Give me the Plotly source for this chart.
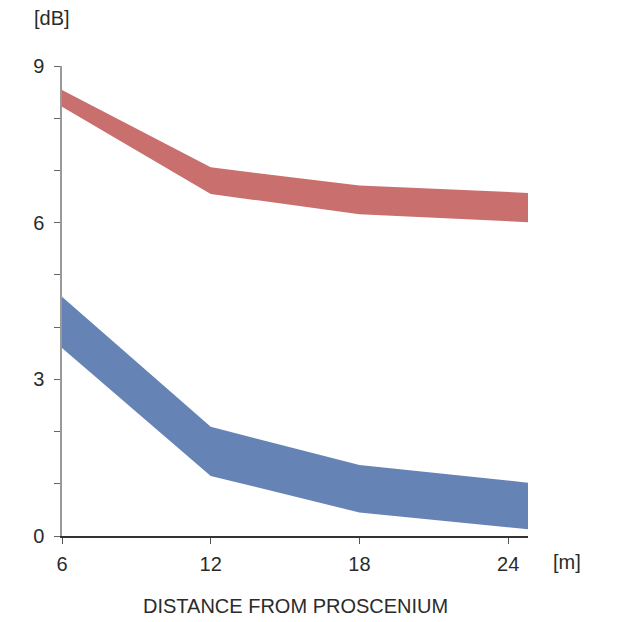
import plotly.graph_objects as go

distance = [6, 12, 18, 24.8]
red_upper = [8.54, 7.06, 6.71, 6.57]
red_lower = [8.22, 6.55, 6.16, 6.01]
blue_upper = [4.58, 2.09, 1.36, 1.02]
blue_lower = [3.60, 1.15, 0.45, 0.13]

x_ticks = [6, 12, 18, 24]
y_ticks = [0, 3, 6, 9]

RED = "#c96f6e"
BLUE = "#6683b6"
TXT = "#2b2b2b"
FONT = "Liberation Sans, Arial, sans-serif"

fig = go.Figure()

def band(upper, lower, color):
    fig.add_trace(go.Scatter(
        x=distance + distance[::-1],
        y=upper + lower[::-1],
        fill="toself", fillcolor=color,
        line=dict(width=0, color=color),
        mode="lines", hoverinfo="skip", showlegend=False,
    ))

band(red_upper, red_lower, RED)
band(blue_upper, blue_lower, BLUE)

fig.update_layout(
    width=627, height=622,
    margin=dict(l=62, r=99, t=66, b=86),
    paper_bgcolor="white", plot_bgcolor="white",
    font=dict(family=FONT, size=20, color=TXT),
    showlegend=False,
    xaxis=dict(
        range=[6, 24.8], tickvals=x_ticks, ticktext=[str(v) for v in x_ticks],
        showgrid=False, zeroline=False, showline=True, linecolor="#333333", linewidth=1.5,
        ticks="outside", ticklen=6, tickcolor="#555555", tickwidth=1,
        tickfont=dict(size=20, color=TXT), ticklabelstandoff=3,
    ),
    yaxis=dict(
        range=[0, 9], tickvals=y_ticks, ticktext=[str(v) for v in y_ticks],
        showgrid=False, zeroline=False, showline=True, linecolor="#999999", linewidth=1.5,
        ticks="outside", ticklen=6, tickcolor="#666666", tickwidth=1,
        minor=dict(dtick=1, tick0=0, ticks="outside", ticklen=6, tickcolor="#666666", tickwidth=1, showgrid=False),
        tickfont=dict(size=20, color=TXT), ticklabelstandoff=6,
    ),
    annotations=[
        dict(text="[dB]", xref="paper", yref="paper", x=-0.022, y=1.102,
             xanchor="center", yanchor="middle", showarrow=False,
             font=dict(size=20, color=TXT, family=FONT)),
        dict(text="[m]", xref="paper", yref="paper", x=1.084, y=-0.055,
             xanchor="center", yanchor="middle", showarrow=False,
             font=dict(size=20, color=TXT, family=FONT)),
        dict(text="DISTANCE FROM PROSCENIUM", xref="paper", yref="paper", x=0.5, y=-0.149,
             xanchor="center", yanchor="middle", showarrow=False,
             font=dict(size=20, color=TXT, family=FONT)),
    ],
)

fig.write_html("out.html", config={"displayModeBar": False},
               post_script="document.body.style.margin='0px';document.body.style.overflow='hidden';")
